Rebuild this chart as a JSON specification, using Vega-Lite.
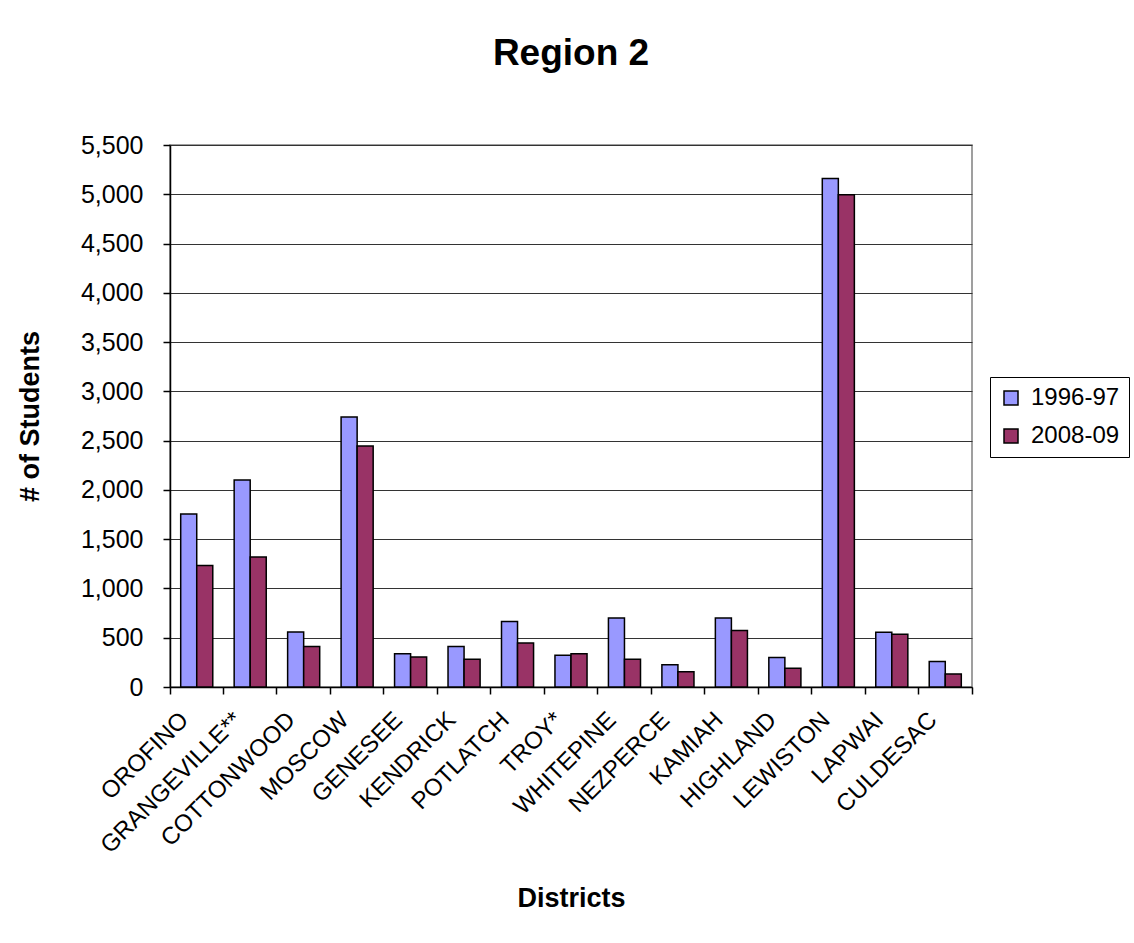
{
  "$schema": "https://vega.github.io/schema/vega-lite/v6.json",
  "width": 802,
  "height": 542,
  "autosize": {"type": "none"},
  "padding": {"left": 170, "top": 145, "right": 162, "bottom": 256},
  "background": "white",
  "title": {
    "text": "Region 2",
    "font": "Liberation Sans",
    "fontSize": 37,
    "fontWeight": "bold",
    "color": "black",
    "anchor": "middle",
    "baseline": "alphabetic",
    "offset": 31
  },
  "data": {
    "values": [
      {"district": "OROFINO", "year": "1996-97", "students": 1755},
      {"district": "OROFINO", "year": "2008-09", "students": 1232},
      {"district": "GRANGEVILLE**", "year": "1996-97", "students": 2100},
      {"district": "GRANGEVILLE**", "year": "2008-09", "students": 1320},
      {"district": "COTTONWOOD", "year": "1996-97", "students": 557},
      {"district": "COTTONWOOD", "year": "2008-09", "students": 410},
      {"district": "MOSCOW", "year": "1996-97", "students": 2740},
      {"district": "MOSCOW", "year": "2008-09", "students": 2445},
      {"district": "GENESEE", "year": "1996-97", "students": 338},
      {"district": "GENESEE", "year": "2008-09", "students": 304},
      {"district": "KENDRICK", "year": "1996-97", "students": 410},
      {"district": "KENDRICK", "year": "2008-09", "students": 281},
      {"district": "POTLATCH", "year": "1996-97", "students": 665},
      {"district": "POTLATCH", "year": "2008-09", "students": 446},
      {"district": "TROY*", "year": "1996-97", "students": 321},
      {"district": "TROY*", "year": "2008-09", "students": 338},
      {"district": "WHITEPINE", "year": "1996-97", "students": 699},
      {"district": "WHITEPINE", "year": "2008-09", "students": 281},
      {"district": "NEZPERCE", "year": "1996-97", "students": 227},
      {"district": "NEZPERCE", "year": "2008-09", "students": 156},
      {"district": "KAMIAH", "year": "1996-97", "students": 700},
      {"district": "KAMIAH", "year": "2008-09", "students": 573},
      {"district": "HIGHLAND", "year": "1996-97", "students": 300},
      {"district": "HIGHLAND", "year": "2008-09", "students": 189},
      {"district": "LEWISTON", "year": "1996-97", "students": 5160},
      {"district": "LEWISTON", "year": "2008-09", "students": 4995},
      {"district": "LAPWAI", "year": "1996-97", "students": 556},
      {"district": "LAPWAI", "year": "2008-09", "students": 535},
      {"district": "CULDESAC", "year": "1996-97", "students": 259},
      {"district": "CULDESAC", "year": "2008-09", "students": 133}
    ]
  },
  "mark": {"type": "bar", "stroke": "black", "strokeWidth": 1.5},
  "encoding": {
    "x": {
      "field": "district",
      "type": "nominal",
      "sort": null,
      "scale": {"paddingInner": 0, "paddingOuter": 0},
      "axis": {
        "title": "Districts",
        "labelAngle": -45,
        "labelAlign": "right",
        "labelBaseline": "middle",
        "labelOffset": -12,
        "labelPadding": 22,
        "labelOverlap": false,
        "labelLimit": 0,
        "bandPosition": 1,
        "tickExtra": true,
        "tickSize": 7,
        "titlePadding": 28
      }
    },
    "xOffset": {
      "field": "year",
      "type": "nominal",
      "scale": {"paddingInner": 0, "paddingOuter": 0.667}
    },
    "y": {
      "field": "students",
      "type": "quantitative",
      "scale": {"domain": [0, 5500], "nice": false},
      "axis": {
        "title": "# of Students",
        "values": [0, 500, 1000, 1500, 2000, 2500, 3000, 3500, 4000, 4500, 5000, 5500],
        "format": ",.0f",
        "grid": true,
        "gridColor": "#333333",
        "gridWidth": 1,
        "tickSize": 7,
        "labelPadding": 20,
        "labelFontSize": 25,
        "titlePadding": 36
      }
    },
    "color": {
      "field": "year",
      "type": "nominal",
      "scale": {"range": ["#9999FF", "#993366"]},
      "legend": {
        "title": null,
        "orient": "none",
        "legendX": 820,
        "legendY": 232,
        "strokeColor": "black",
        "fillColor": "white",
        "padding": 9,
        "symbolType": "square",
        "symbolSize": 196,
        "symbolStrokeColor": "black",
        "symbolStrokeWidth": 1.5,
        "symbolOpacity": 1,
        "labelFont": "Liberation Sans",
        "labelFontSize": 24,
        "labelColor": "black",
        "labelOffset": 8,
        "rowPadding": 14
      }
    }
  },
  "config": {
    "font": "Liberation Sans",
    "view": {"stroke": "#808080", "strokeWidth": 1.5},
    "axis": {
      "labelFont": "Liberation Sans",
      "labelFontSize": 24,
      "labelColor": "black",
      "titleFont": "Liberation Sans",
      "titleFontSize": 27,
      "titleFontWeight": "bold",
      "titleColor": "black",
      "domainColor": "black",
      "domainWidth": 1.5,
      "tickColor": "black",
      "tickWidth": 1.5
    }
  }
}
